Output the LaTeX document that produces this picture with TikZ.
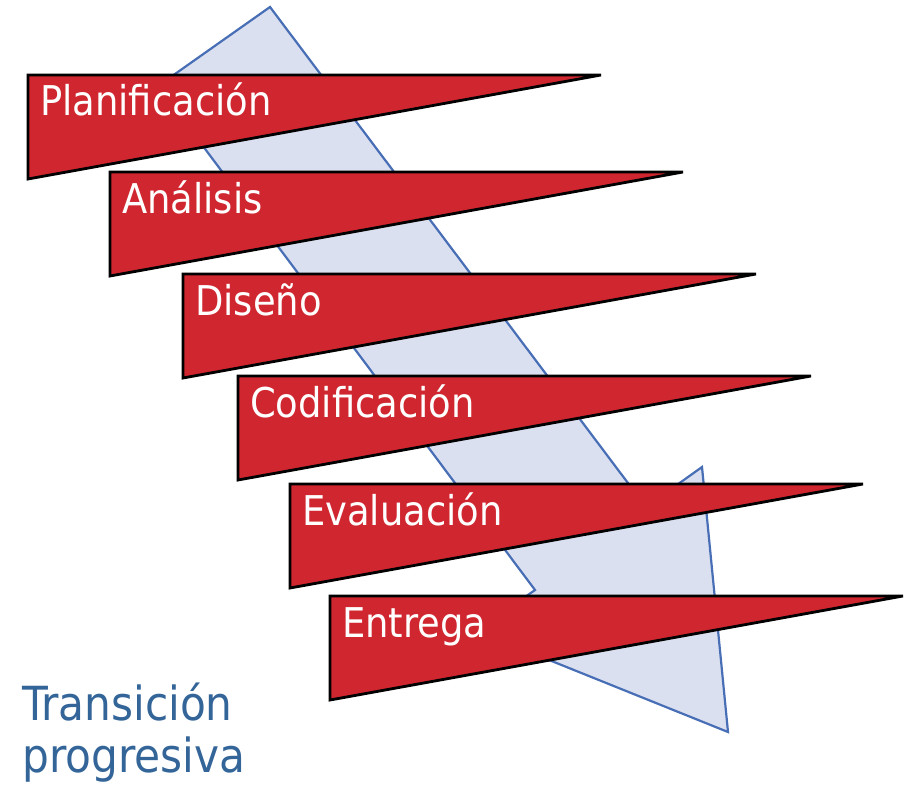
\documentclass[tikz,border=0pt]{standalone}
\usepackage{fontspec}
\newfontfamily\phasefont{DejaVu Sans Condensed}
\definecolor{phasered}{RGB}{208,38,47}
\definecolor{arrowfill}{RGB}{218,224,240}
\definecolor{arrowline}{RGB}{72,110,182}
\definecolor{captionblue}{RGB}{52,101,153}

\tikzset{
  bigarrow/.style={fill=arrowfill,draw=arrowline,line width=2.2pt,line join=miter},
  phase/.style={fill=phasered,draw=black,line width=2.8pt,line join=miter},
  phaselabel/.style={anchor=base west,inner sep=0pt,text=white,
                     font=\phasefont\fontsize{41}{46}\selectfont},
  caption/.style={anchor=base west,inner sep=0pt,align=left,text=captionblue,
                  font=\phasefont\fontsize{47}{52}\selectfont}
}

\begin{document}
\begin{tikzpicture}[x=1pt,y=-1pt]
  \useasboundingbox (0,0) rectangle (910,789);

  % progressive arrow behind the phases
  \draw[bigarrow] (270,7) coordinate (top)
     -- (646,507) coordinate (neckR)
     -- (702,467) coordinate (barbR)
     -- (728,732) coordinate (tip)
     -- (477,631) coordinate (barbL)
     -- (535,590) coordinate (neckL)
     -- (158,86)  coordinate (tail)
     -- cycle;

  % phases
  \foreach \x/\y/\name/\txt in {28/75/plan/Planificación,
                                110/172/anal/Análisis,
                                183/274/dis/Diseño,
                                238/376/cod/Codificación,
                                290/484/eval/Evaluación,
                                330/596/entr/Entrega} {
    \draw[phase] (\x,\y) coordinate (\name-a)
       -- (\x+573,\y) coordinate (\name-b)
       -- (\x,\y+104) coordinate (\name-c) -- cycle;
    \node[phaselabel] (\name) at (\x+12,\y+41) {\txt};
  }

  \node[caption] (trans) at (22,772) {Transición\\progresiva};
\end{tikzpicture}
\end{document}
